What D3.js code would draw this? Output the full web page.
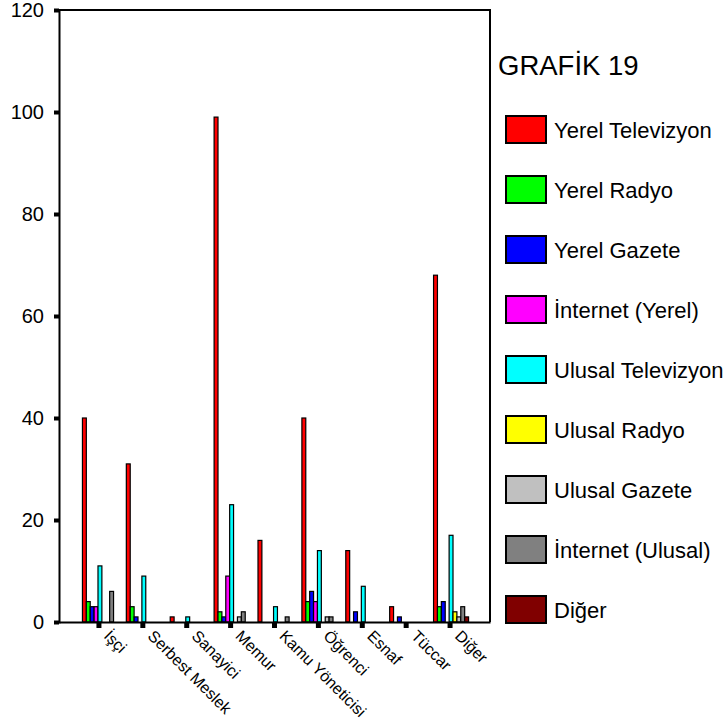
<!DOCTYPE html>
<html>
<head>
<meta charset="utf-8">
<script src="https://cdn.jsdelivr.net/npm/d3@7"></script>
<style>
  body { margin: 0; background: #fff; }
  svg { font-family: 'Liberation Sans', Arial, sans-serif; }
</style>
</head>
<body>
<div id="chart"></div>
<script>
const categories = ['İşçi', 'Serbest Meslek', 'Sanayici', 'Memur', 'Kamu Yöneticisi', 'Öğrenci', 'Esnaf', 'Tüccar', 'Diğer']
const seriesNames = ['Yerel Televizyon', 'Yerel Radyo', 'Yerel Gazete', 'İnternet (Yerel)', 'Ulusal Televizyon', 'Ulusal Radyo', 'Ulusal Gazete', 'İnternet (Ulusal)', 'Diğer']
const seriesColors = ['#ff0000', '#00ff00', '#0000ff', '#ff00ff', '#00ffff', '#ffff00', '#c0c0c0', '#808080', '#800000']

const yerelTelevizyon = [40, 31, 1, 99, 16, 40, 14, 3, 68]
const yerelRadyo = [4, 3, 0, 2, 0, 4, 0, 0, 3]
const yerelGazete = [3, 1, 0, 1, 0, 6, 2, 1, 4]
const internetYerel = [3, 0, 0, 9, 0, 4, 0, 0, 0]
const ulusalTelevizyon = [11, 9, 1, 23, 3, 14, 7, 0, 17]
const ulusalRadyo = [0, 0, 0, 0, 0, 0, 0, 0, 2]
const ulusalGazete = [0, 0, 0, 1, 0, 1, 0, 0, 1]
const internetUlusal = [6, 0, 0, 2, 1, 1, 0, 0, 3]
const diger = [0, 0, 0, 0, 0, 0, 0, 0, 1]

const yTicks = [0, 20, 40, 60, 80, 100, 120]
const title = 'GRAFİK 19'

const seriesValues = [yerelTelevizyon, yerelRadyo, yerelGazete, internetYerel, ulusalTelevizyon, ulusalRadyo, ulusalGazete, internetUlusal, diger]

const w = 725
const h = 724
const plot = { left: 59, right: 490, top: 10, bottom: 622 }

const svg = d3.select('#chart')
  .append('svg')
  .attr('width', w)
  .attr('height', h)

const x = d3.scaleBand()
  .domain(categories)
  .range([plot.left, plot.right])
  .paddingInner(0)
  .paddingOuter(0.41)

const xs = d3.scaleBand()
  .domain(seriesNames)
  .range([0, 35])

const y = d3.scaleLinear()
  .domain([0, 120])
  .range([plot.bottom, plot.top])

// bars
const rows = []
categories.forEach((c, ci) => {
  seriesNames.forEach((s, si) => {
    rows.push({ cat: c, series: s, color: seriesColors[si], value: seriesValues[si][ci] })
  })
})

svg.append('g')
  .selectAll('rect')
  .data(rows.filter(d => d.value > 0))
  .enter().append('rect')
  .attr('x', d => x(d.cat) + x.bandwidth() / 2 - 16.5 + xs(d.series))
  .attr('y', d => y(d.value))
  .attr('width', xs.bandwidth())
  .attr('height', d => y(0) - y(d.value))
  .attr('fill', d => d.color)
  .attr('stroke', '#000')
  .attr('stroke-width', 1.2)

// frame top and right
svg.append('path')
  .attr('d', `M${plot.left},${plot.top}H${plot.right}V${plot.bottom}`)
  .attr('fill', 'none')
  .attr('stroke', '#000')
  .attr('stroke-width', 2)

// y axis
svg.append('g')
  .attr('transform', `translate(${plot.left},0)`)
  .call(d3.axisLeft(y).tickValues(yTicks).tickSize(5).tickPadding(10).tickFormat(d3.format('d')))
  .call(g => g.select('.domain').attr('stroke-width', 2))
  .call(g => g.selectAll('.tick line').attr('stroke-width', 4))
  .call(g => g.selectAll('.tick text').attr('font-size', 20).attr('font-family', "'Liberation Sans', Arial, sans-serif").attr('fill', '#000'))

// x axis
svg.append('g')
  .attr('transform', `translate(0,${plot.bottom})`)
  .call(d3.axisBottom(x).tickSize(6).tickSizeOuter(0))
  .call(g => g.select('.domain').attr('stroke-width', 2))
  .call(g => g.selectAll('.tick line').attr('stroke-width', 5))
  .call(g => g.selectAll('.tick text')
    .attr('font-size', 16)
    .attr('font-family', "'Liberation Sans', Arial, sans-serif")
    .attr('fill', '#000')
    .attr('text-anchor', 'start')
    .attr('dy', null)
    .attr('y', 0)
    .attr('transform', 'translate(4,15) rotate(45)'))

// title + legend
svg.append('text')
  .attr('x', 498)
  .attr('y', 75)
  .attr('font-size', 27.5)
  .text(title)

const legend = svg.append('g')
  .selectAll('g')
  .data(seriesNames)
  .enter().append('g')
  .attr('transform', (d, i) => `translate(506,${130 + i * 60})`)

legend.append('rect')
  .attr('x', 0)
  .attr('y', -14)
  .attr('width', 40)
  .attr('height', 27)
  .attr('fill', (d, i) => seriesColors[i])
  .attr('stroke', '#000')
  .attr('stroke-width', 2)

legend.append('text')
  .attr('x', 48)
  .attr('y', 8)
  .attr('font-size', 22)
  .text(d => d)
</script>
</body>
</html>
